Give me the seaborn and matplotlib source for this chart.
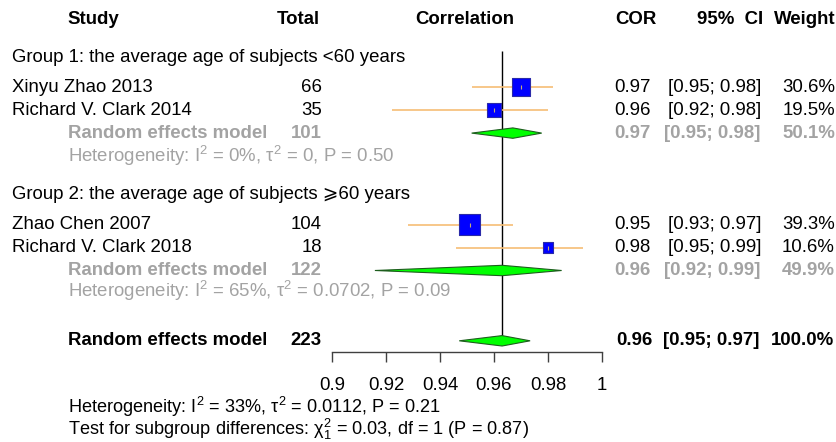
import matplotlib
matplotlib.use("Agg")
import matplotlib.pyplot as plt
from matplotlib.transforms import blended_transform_factory
import numpy as np
import pandas as pd
import seaborn as sns

# ---------------- data ----------------
study_names = ["Xinyu Zhao 2013", "Richard V. Clark 2014", "Zhao Chen 2007", "Richard V. Clark 2018"]
study_group = [1, 1, 2, 2]
study_totals = [66, 35, 104, 18]
study_cor = [0.970, 0.960, 0.951, 0.980]
study_ci_lo = [0.952, 0.922, 0.928, 0.946]
study_ci_hi = [0.982, 0.980, 0.967, 0.993]
study_weight = [30.6, 19.5, 39.3, 10.6]
study_cor_text = ["0.97", "0.96", "0.95", "0.98"]
study_ci_text = ["[0.95; 0.98]", "[0.92; 0.98]", "[0.93; 0.97]", "[0.95; 0.99]"]
study_weight_text = ["30.6%", "19.5%", "39.3%", "10.6%"]

group_labels = ["Group 1: the average age of subjects <60 years",
                "Group 2: the average age of subjects \u2a7e60 years"]
group_totals = [101, 122]
group_est = [0.967, 0.963]
group_lo = [0.9517, 0.9158]
group_hi = [0.9777, 0.9851]
group_cor_text = ["0.97", "0.96"]
group_ci_text = ["[0.95; 0.98]", "[0.92; 0.99]"]
group_weight_text = ["50.1%", "49.9%"]
group_het = [r"Heterogeneity: $\mathrm{I}^2$ = 0%, $\mathrm{\tau}^2$ = 0, P = 0.50",
             r"Heterogeneity: $\mathrm{I}^2$ = 65%, $\mathrm{\tau}^2$ = 0.0702, P = 0.09"]

overall_total = 223
overall_est = 0.963
overall_lo = 0.9471
overall_hi = 0.9734
overall_cor_text = "0.96"
overall_ci_text = "[0.95; 0.97]"
overall_weight_text = "100.0%"
overall_het = r"Heterogeneity: $\mathrm{I}^2$ = 33%, $\mathrm{\tau}^2$ = 0.0112, P = 0.21"
subgroup_test = r"Test for subgroup differences: $\mathrm{\chi}^2_1$ = 0.03, df = 1 (P = 0.87)"

x_ticks = [0.9, 0.92, 0.94, 0.96, 0.98, 1.0]
x_tick_labels = ["0.9", "0.92", "0.94", "0.96", "0.98", "1"]

headers = {"study": "Study", "total": "Total", "effect": "Correlation",
           "cor": "COR", "ci": "95%  CI", "weight": "Weight"}

# ---------------- layout (rows) ----------------
ROW_H = 22.9
ROW0 = 87.3
W, H = 837, 442
row_header = -2.94
row_group_label = [-1.28, 4.70]
study_rows = [0, 1, 6, 7]
row_group_diamond = [2, 8]
row_group_het = [3, 8.9]
row_overall = 11.07
row_overall_het = 13.95
row_test = 14.95
row_vline_top = -1.6

FS = 13.4
FS_BOTTOM = 13.1
GREY = "#A3A3A3"

sns.set_theme(style="white")
plt.rcParams["font.family"] = ["Liberation Sans", "DejaVu Sans"]
plt.rcParams["mathtext.fontset"] = "custom"
plt.rcParams["mathtext.rm"] = "Liberation Sans"
plt.rcParams["mathtext.it"] = "Liberation Sans:italic"
plt.rcParams["mathtext.bf"] = "Liberation Sans:bold"
plt.rcParams["mathtext.sf"] = "Liberation Sans"

fig = plt.figure(figsize=(W / 100, H / 100), dpi=100)
fig.patch.set_facecolor("white")
axis_y = 351.7
ax = fig.add_axes([332.3 / W, (H - axis_y) / H, 269.5 / W, axis_y / H])
ax.set_xlim(0.9, 1.0)
ax.set_ylim((axis_y - ROW0) / ROW_H, -ROW0 / ROW_H)
ax.patch.set_alpha(0)

tr = blended_transform_factory(fig.transFigure, ax.transData)


def txt(px, row, s, ha="left", color="black", weight="normal", fs=FS):
    ax.text(px / W, row, s, transform=tr, ha=ha, va="center", fontsize=fs,
            color=color, fontweight=weight, clip_on=False)


# headers
txt(67, row_header, headers["study"], weight="bold")
txt(320, row_header, headers["total"], ha="right", weight="bold")
txt(465, row_header, headers["effect"], ha="center", weight="bold")
txt(657, row_header, headers["cor"], ha="right", weight="bold")
txt(763, row_header, headers["ci"], ha="right", weight="bold")
txt(836, row_header, headers["weight"], ha="right", weight="bold")

# overall vertical line
ax.vlines(overall_est, row_vline_top, row_overall, color="black", lw=1.0, zorder=1)

# studies
df = pd.DataFrame({"cor": study_cor, "row": study_rows, "w": study_weight})
ax.hlines(study_rows, study_ci_lo, study_ci_hi, color="#F6BE76", lw=1.2, zorder=2)
sns.scatterplot(data=df, x="cor", y="row", s=[5.6 * w for w in study_weight],
                marker="s", color="#0000FF", edgecolor="#2A2AA8", linewidth=0.8,
                ax=ax, legend=False, zorder=3, clip_on=False)
ax.scatter(study_cor, study_rows, marker="|", s=12, color="#C8B070", lw=0.8, zorder=4)

for i in range(len(study_names)):
    r = study_rows[i]
    txt(12, r, study_names[i])
    txt(322, r, str(study_totals[i]), ha="right")
    txt(651, r, study_cor_text[i], ha="right")
    txt(715, r, study_ci_text[i], ha="center")
    txt(835, r, study_weight_text[i], ha="right")

HALF = 5.2 / ROW_H
for g in range(2):
    txt(12, row_group_label[g], group_labels[g])
    r = row_group_diamond[g]
    ax.fill([group_lo[g], group_est[g], group_hi[g], group_est[g]],
            [r, r - HALF, r, r + HALF], facecolor="#00FF00", edgecolor="#1E5E1E",
            lw=0.8, zorder=3)
    txt(68, r, "Random effects model", color=GREY, weight="bold")
    txt(322, r, str(group_totals[g]), ha="right", color=GREY, weight="bold")
    txt(651, r, group_cor_text[g], ha="right", color=GREY, weight="bold")
    txt(712, r, group_ci_text[g], ha="center", color=GREY, weight="bold")
    txt(835, r, group_weight_text[g], ha="right", color=GREY, weight="bold")
    txt(68, row_group_het[g], group_het[g], color=GREY)

# overall
r = row_overall
ax.fill([overall_lo, overall_est, overall_hi, overall_est],
        [r, r - HALF, r, r + HALF], facecolor="#00FF00", edgecolor="#1E5E1E",
        lw=0.8, zorder=3)
txt(68, r, "Random effects model", weight="bold")
txt(322, r, str(overall_total), ha="right", weight="bold")
txt(653, r, overall_cor_text, ha="right", weight="bold")
txt(711, r, overall_ci_text, ha="center", weight="bold")
txt(834, r, overall_weight_text, ha="right", weight="bold")

txt(68, row_overall_het, overall_het, fs=FS_BOTTOM)
txt(68, row_test, subgroup_test, fs=FS_BOTTOM)

# axis styling (after seaborn, which sets labels)
ax.set_xlabel("")
ax.set_ylabel("")
for s in ["top", "left", "right"]:
    ax.spines[s].set_visible(False)
ax.spines["bottom"].set_color("#404040")
ax.spines["bottom"].set_linewidth(1.0)
ax.set_xlim(0.9, 1.0)
ax.set_ylim((axis_y - ROW0) / ROW_H, -ROW0 / ROW_H)
ax.set_xticks(x_ticks)
ax.set_xticklabels(x_tick_labels)
ax.set_yticks([])
ax.tick_params(axis="x", direction="out", length=7.2, width=1.0, pad=11,
               labelsize=FS, colors="#404040", labelcolor="black", bottom=True)

fig.savefig("out.png", dpi=100)
